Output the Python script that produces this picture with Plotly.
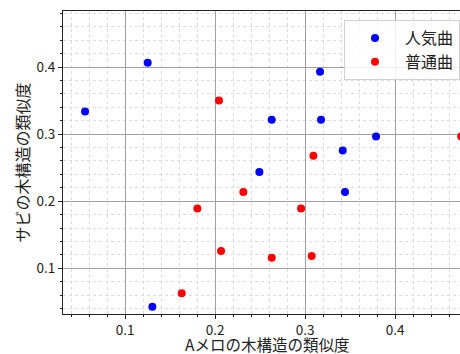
import plotly.graph_objects as go

# Similarity of the tree structures: A-melody (x) vs. chorus (y)
popular_x = [0.0556, 0.1252, 0.3167, 0.2630, 0.3178, 0.3789, 0.3419, 0.2493, 0.3444, 0.1304]
popular_y = [0.3337, 0.4064, 0.3930, 0.3213, 0.3213, 0.2965, 0.2756, 0.2437, 0.2139, 0.0428]

normal_x = [0.2044, 0.3093, 0.4735, 0.2315, 0.1804, 0.2956, 0.2067, 0.2630, 0.3074, 0.1630]
normal_y = [0.3500, 0.2677, 0.2967, 0.2139, 0.1891, 0.1891, 0.1258, 0.1158, 0.1184, 0.0627]

series_names = ["人気曲", "普通曲"]
x_title = "Aメロの木構造の類似度"
y_title = "サビの木構造の類似度"

FONT = "Noto Sans CJK JP, Noto Sans, sans-serif"

fig = go.Figure()
fig.add_trace(go.Scatter(
    x=popular_x, y=popular_y, mode="markers", name=series_names[0],
    marker=dict(color="#0000ff", size=8, line=dict(width=0)),
))
fig.add_trace(go.Scatter(
    x=normal_x, y=normal_y, mode="markers", name=series_names[1],
    marker=dict(color="#ff0000", size=8, line=dict(width=0)),
))

axis_common = dict(
    showline=True, linecolor="#222", linewidth=1,
    ticks="outside", ticklen=4, tickwidth=1, tickcolor="#222",
    showgrid=True, gridcolor="#a0a0a0", gridwidth=1,
    zeroline=False,
    tickfont=dict(family=FONT, size=13.5, color="#222"),
    dtick=0.1, tick0=0,
    minor=dict(dtick=0.02, tick0=0, ticks="outside", ticklen=2, tickcolor="#222",
               showgrid=True, gridcolor="#dcdcdc", griddash="dot", gridwidth=1),
)

fig.update_xaxes(range=[0.0311, 0.4722], mirror=True, **axis_common)
fig.update_yaxes(
    range=[0.0319, 0.4835], mirror=False,
    title=dict(text=y_title, font=dict(family=FONT, size=16, color="#222"), standoff=2),
    **axis_common,
)

# x-axis title, set just under the tick labels
fig.add_annotation(
    text=x_title, xref="paper", yref="paper", x=0.515, y=-0.098,
    xanchor="center", yanchor="middle", showarrow=False,
    font=dict(family=FONT, size=15.5, color="#222"),
)

fig.update_layout(
    width=460, height=354,
    margin=dict(l=63, r=0, t=11, b=40, autoexpand=False),
    paper_bgcolor="white", plot_bgcolor="white",
    font=dict(family=FONT, color="#222"),
    showlegend=True,
    legend=dict(
        x=1.0, y=0.97, xanchor="right", yanchor="top",
        bgcolor="rgba(255,255,255,0.85)", bordercolor="#d0d0d0", borderwidth=1,
        font=dict(family=FONT, size=16, color="#222"),
        itemwidth=50,
    ),
)

fig.write_html("out.html")
